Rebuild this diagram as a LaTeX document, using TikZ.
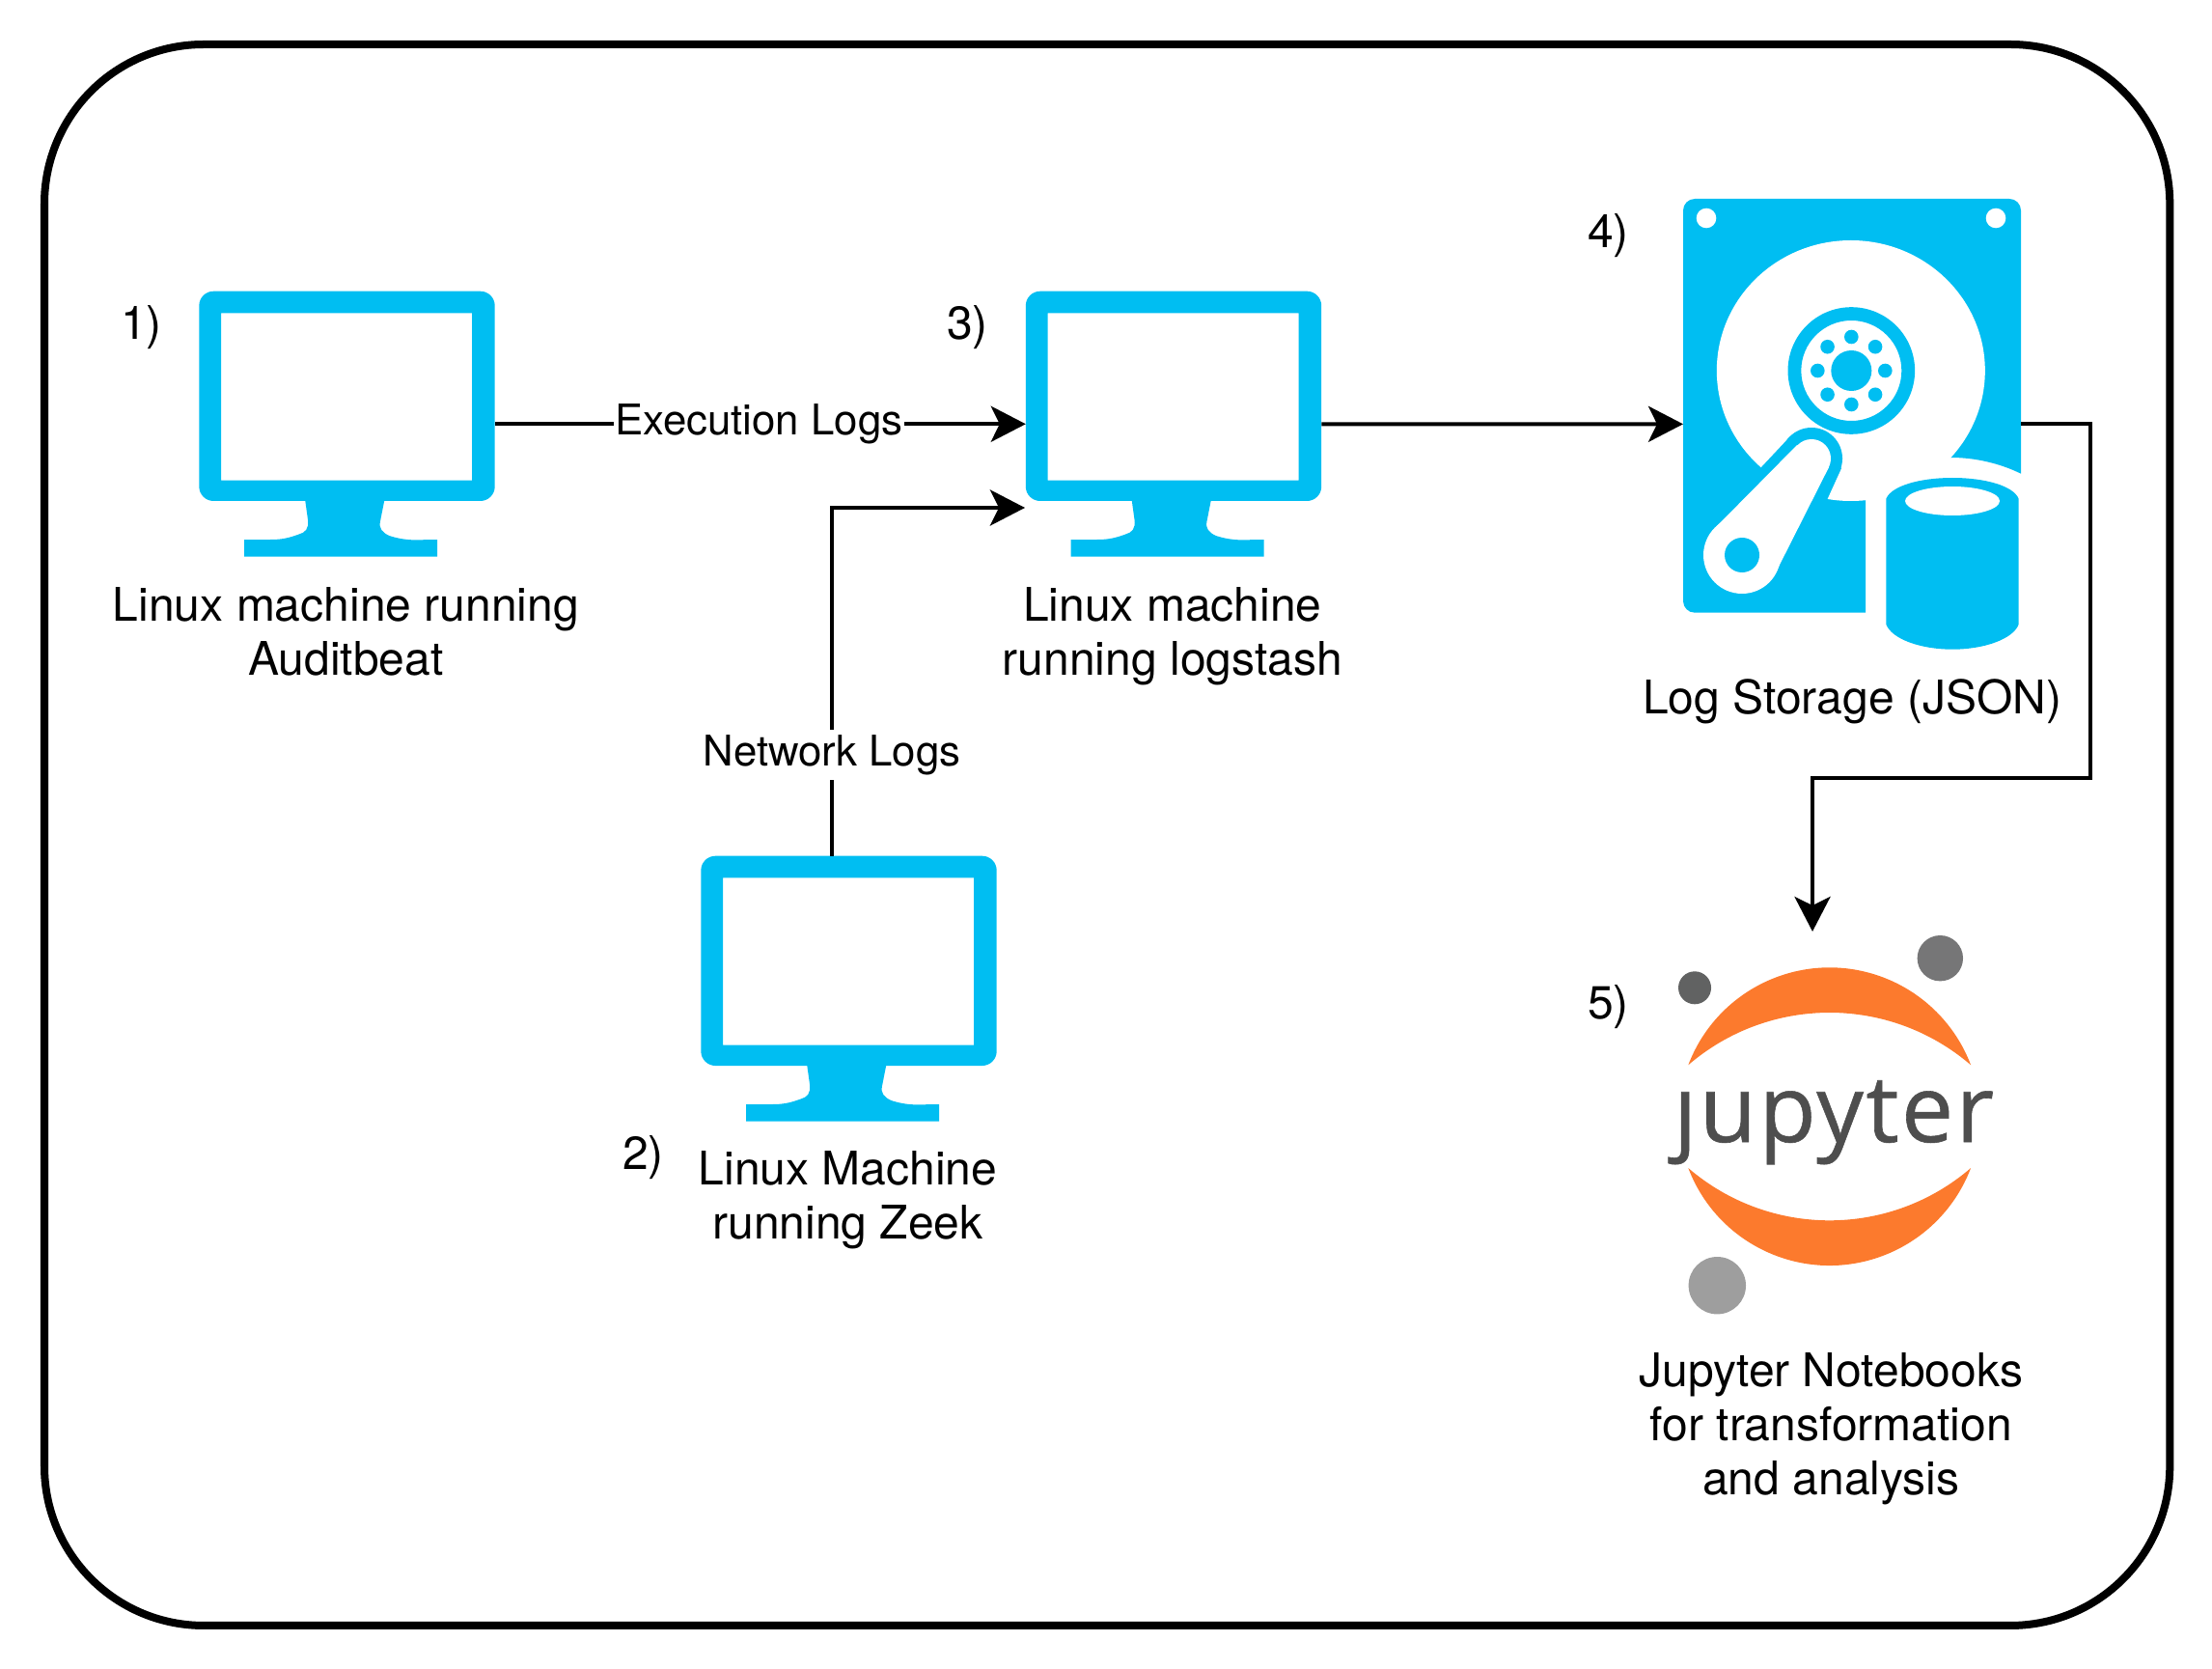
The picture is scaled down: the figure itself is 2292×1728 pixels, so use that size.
\documentclass[tikz,border=0pt]{standalone}
\usepackage{fontspec}
\setmainfont{TeX Gyre Heros}
\newfontfamily\jupfont[LetterSpace=2.5, FakeBold=0.6]{Open Sans}
\usepackage{tikz}
\usetikzlibrary{positioning, arrows.meta}
\definecolor{iconblue}{HTML}{00BEF2}
\definecolor{juporange}{HTML}{FC7A2D}
\definecolor{jupink}{HTML}{4E4E4E}
\definecolor{jupdark}{HTML}{616262}
\definecolor{jupmid}{HTML}{767677}
\definecolor{juplight}{HTML}{9E9E9E}
\tikzset{
  >={Stealth[length=3.6mm, width=3.7mm, inset=0.9mm]},
  every node/.style={font=\fontsize{13.65}{15.9}\selectfont},
  iconbox/.style={rectangle, inner sep=0pt, outer sep=0pt},
  caption/.style={align=center, inner sep=0pt, text=black, xshift=-0.012cm},
  numlabel/.style={inner sep=0pt, text=black},
  edgelabel/.style={fill=white, inner sep=0.5pt, minimum height=0.52cm,
    font=\fontsize{12.45}{15}\selectfont},
  flowarrow/.style={->, black, line width=0.04cm},
  frameline/.style={draw=black, line width=0.08cm, rounded corners=1.65cm},
  monitor/.pic={
    \node[iconbox, minimum width=3.064cm, minimum height=2.75cm, anchor=north west] (-box) at (0,0) {};
    \fill[iconblue, even odd rule] [rounded corners=0.15cm] (0,0) rectangle (306.4,217.3)
      [sharp corners] (22.7,22.6) rectangle (282.7,196);
    \fill[iconblue] (109.7,215) -- (112.7,236.7) .. controls (114,246) and (110,250) .. (103.7,251.7)
      .. controls (92,256) and (85,257.3) .. (73.7,257.3) -- (46.7,257.3) -- (46.7,275) -- (246.7,275)
      -- (246.7,257.3) -- (223.7,257.7) .. controls (212,257.5) and (204,255.5) .. (197,253.3)
      .. controls (190,250) and (186,246) .. (187.7,238.3) -- (192.3,215) -- cycle;
  }
}

\begin{document}
\begin{tikzpicture}[x=0.01cm, y=-0.01cm]
\useasboundingbox (0,0) rectangle (2292,1728);

% Outer frame
\node[iconbox, minimum width=22.01cm, minimum height=16.37cm, anchor=north west, frameline] (frame) at (46,46) {};

% Linux machines
\pic (mone) at (206.3,301.7) {monitor};
\pic (mtwo) at (726.3,886.7) {monitor};
\pic (mthree) at (1062.8,301.7) {monitor};

\node[caption, below=0.31cm of mone-box] (capone) {Linux machine running\\Auditbeat};
\node[caption, below=0.295cm of mtwo-box] (captwo) {Linux Machine\\running Zeek};
\node[caption, below=0.31cm of mthree-box] (capthree) {Linux machine\\running logstash};

% Hard disk
\node[iconbox, minimum width=3.5cm, minimum height=4.67cm, anchor=north west] (disk) at (1744,205.7) {};
\fill[iconblue] (1933,634.7) [rounded corners=0.12cm] -- (1744,634.7) -- (1744,206) -- (2094,206) -- (2094,300)
  [sharp corners] -- (2094,490.7) .. controls (2072,480) and (2047,474) .. (2021,474) -- (1933,474) -- cycle;
\fill[white] (1768,226) circle[radius=10.3] (2068,226) circle[radius=10.3];
\fill[white] (1917.8,384) ellipse[x radius=139, y radius=135];
\fill[iconblue, even odd rule] (1918.3,384) circle[radius=65.8] (1918.3,384) circle[radius=52];
\fill[iconblue] (1918.3,384) circle[radius=21];
\foreach \a in {0,45,...,315} {
  \fill[iconblue] (1918.3,384) ++(\a:35) circle[radius=7.3];
}
% Arm of the disk
\fill[iconblue] (1877,475) circle[radius=32];
\fill[iconblue] (1825,484) -- (1855,452) -- (1908,485) -- (1893,518) -- (1840,593) -- (1777,548) -- cycle;
\fill[white] (1877,475) circle[radius=20] (1805,575) circle[radius=40];
\fill[white] (1862,461) -- (1777,547) -- (1840,593) -- (1895,484) -- cycle;
\fill[iconblue] (1805,575) circle[radius=18];
% Cylinder of the disk
\fill[iconblue] (1954.3,516.7) .. controls (1960,503) and (1990,495) .. (2023,495)
  .. controls (2056,495) and (2086,503) .. (2091.7,516.7) -- (2091.7,646.7)
  .. controls (2086,662) and (2056,672.7) .. (2023,672.7)
  .. controls (1990,672.7) and (1960,662) .. (1954.3,646.7) -- cycle;
\fill[white] (2023,519) ellipse[x radius=49, y radius=15];

\node[caption, below=0.30cm of disk, xshift=0.012cm] (capdisk) {Log Storage (JSON)};

% Jupyter logo
\node[iconbox, minimum width=3.35cm, minimum height=3.6cm] (jup) at (1896,1170) {};
\fill[juporange] (1749.3,1103.3) arc[start angle=200.8, end angle=339.2, radius=156.6]
  arc[start angle=310.7, end angle=229.3, radius=224.5] -- cycle;
\fill[juporange] (1749.3,1210) arc[start angle=159.2, end angle=20.8, radius=156.6]
  arc[start angle=49.3, end angle=130.7, radius=224.5] -- cycle;
\fill[jupdark] (1756,1023.3) circle[radius=17];
\fill[jupmid] (2010.3,992.7) circle[radius=23.7];
\fill[juplight] (1779.3,1331.7) circle[radius=29.7];
\node[iconbox, anchor=base, text=jupink, font=\jupfont\fontsize{27.5}{30}\selectfont] (juptext) at (1900,1183) {ȷupyter};

\node[caption, below=0.51cm of jup, xshift=0.025cm] (capjup) {Jupyter Notebooks\\for transformation\\and analysis};

% Step numbers
\node[numlabel] (nrone) at (146.5,339) {1)};
\node[numlabel] (nrtwo) at (666.5,1199) {2)};
\node[numlabel] (nrthree) at (1002.5,339) {3)};
\node[numlabel] (nrfour) at (1666.5,244) {4)};
\node[numlabel] (nrfive) at (1666.5,1043) {5)};

% Connectors
\coordinate (zeekout) at (862,886.7);
\coordinate (netin) at (1062,526);
\coordinate (diskbend) at (2166,805.7);
\coordinate (jupin) at (1878,965);

\draw[flowarrow] (mone-box.east) -- node[midway, edgelabel, xshift=-0.015cm] (lblexec) {Execution Logs} (mthree-box.west);
\draw[flowarrow] (zeekout) |- node[pos=0.145, edgelabel] (lblnet) {Network Logs} (netin);
\draw[flowarrow] (mthree-box.east) -- (disk.west);
\draw[flowarrow] (disk.east) -| (diskbend) -| (jupin);

\end{tikzpicture}
\end{document}
